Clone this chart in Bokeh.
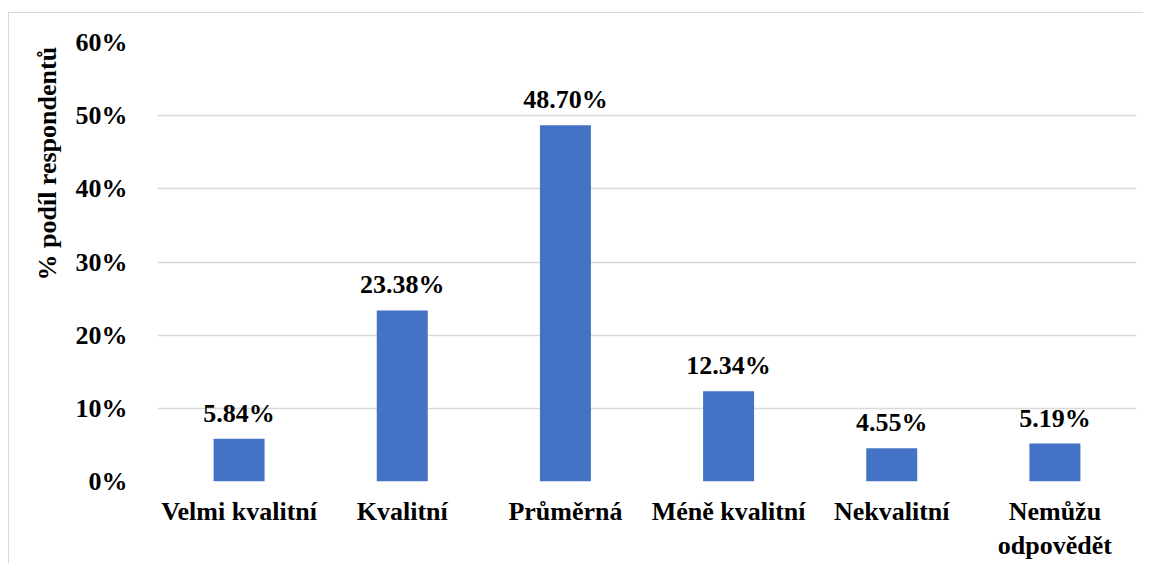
from bokeh.plotting import figure
from bokeh.models import ColumnDataSource, FactorRange, Range1d, FixedTicker, LabelSet, Title
from bokeh.embed import file_html
from bokeh.resources import INLINE

categories = ["Velmi kvalitní", "Kvalitní", "Průměrná", "Méně kvalitní", "Nekvalitní", "Nemůžu\nodpovědět"]
values = [5.84, 23.38, 48.70, 12.34, 4.55, 5.19]
value_labels = ["5.84%", "23.38%", "48.70%", "12.34%", "4.55%", "5.19%"]
y_ticks = [0, 10, 20, 30, 40, 50, 60]
y_tick_labels = ["0%", "10%", "20%", "30%", "40%", "50%", "60%"]
y_title = "% podíl respondentů"

FONT = "Liberation Serif"
GRID = "#d9d9d9"

source = ColumnDataSource(data=dict(cat=categories, val=values, lab=value_labels))

p = figure(
    x_range=FactorRange(*categories, range_padding=0),
    y_range=Range1d(0, 60),
    width=1135, height=551,
    output_backend="svg", toolbar_location=None,
    min_border_left=148, min_border_right=8, min_border_top=29, min_border_bottom=83,
)
p.styles = {"margin-top": "12px", "margin-left": "8px",
            "border-top": f"1px solid {GRID}", "border-left": f"1px solid {GRID}"}

p.vbar(x="cat", top="val", width=0.3125, source=source, fill_color="#4472C4", line_color=None)

labels = LabelSet(x="cat", y="val", text="lab", source=source, text_align="center",
                  text_baseline="alphabetic", y_offset=17, text_font=FONT,
                  text_font_size="26px", text_font_style="bold", text_color="black")
p.add_layout(labels)

title = Title(text=y_title, align="left", offset=201, standoff=22,
              text_font=FONT, text_font_size="26px", text_font_style="bold",
              text_color="black")
p.add_layout(title, "left")

p.outline_line_color = None
p.xgrid.grid_line_color = None
p.ygrid.grid_line_color = GRID
p.ygrid.grid_line_width = 1.5

p.yaxis.ticker = FixedTicker(ticks=y_ticks)
p.yaxis.major_label_overrides = {t: l for t, l in zip(y_ticks, y_tick_labels)}
for ax in (p.xaxis, p.yaxis):
    ax.axis_line_color = None
    ax.major_tick_line_color = None
    ax.minor_tick_line_color = None
    ax.major_label_text_font = FONT
    ax.major_label_text_font_size = "26px"
    ax.major_label_text_font_style = "bold"
    ax.major_label_text_color = "black"

p.yaxis.major_label_standoff = 24
p.xaxis.major_label_standoff = 9

open("out.html", "w").write(file_html(p, INLINE))
